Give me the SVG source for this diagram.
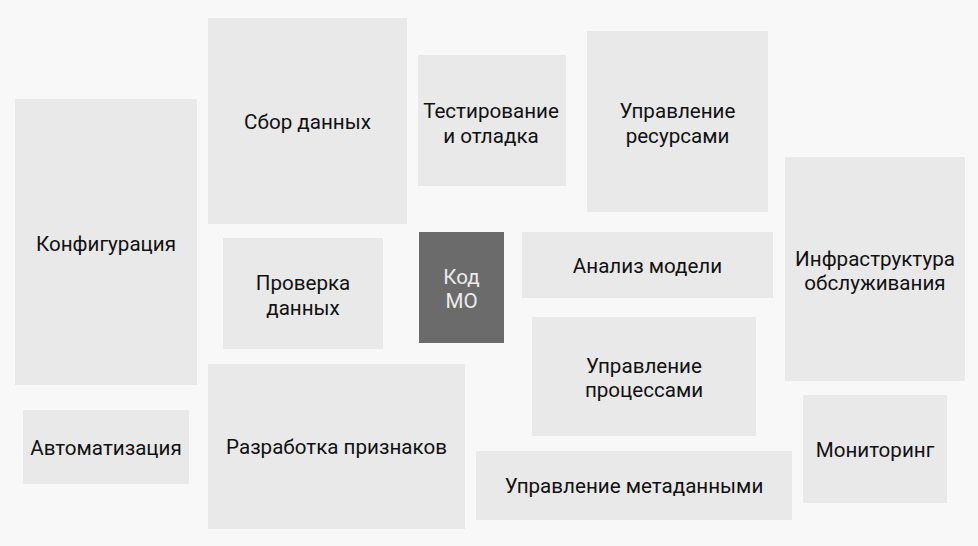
<svg xmlns="http://www.w3.org/2000/svg" width="978" height="546" viewBox="0 0 978 546">
<style>
.b{fill:#e9e9e9}
.d{fill:#6b6b6b}
text{font-family:Roboto,"Liberation Sans",sans-serif;font-size:20.6px;fill:#111111;text-anchor:middle}
.w{fill:#ececec}
</style>
<rect width="978" height="546" fill="#f7f8f7"/>
<g id="konfig"><rect class="b" x="15" y="99" width="182" height="286"/><text x="106" y="251">Конфигурация</text></g>
<g id="sbor"><rect class="b" x="208" y="18" width="199" height="206"/><text x="307.5" y="129">Сбор данных</text></g>
<g id="test"><rect class="b" x="418" y="55" width="148" height="131"/><text x="491" y="118">Тестирование</text><text x="491" y="143">и отладка</text></g>
<g id="resursy"><rect class="b" x="587" y="31" width="181" height="181"/><text x="677.5" y="118">Управление</text><text x="677.5" y="143">ресурсами</text></g>
<g id="infra"><rect class="b" x="785" y="157" width="180" height="224"/><text x="875" y="266">Инфраструктура</text><text x="875" y="290">обслуживания</text></g>
<g id="proverka"><rect class="b" x="223" y="238" width="160" height="111"/><text x="303" y="290">Проверка</text><text x="303" y="315">данных</text></g>
<g id="kod"><rect class="d" x="419" y="232" width="85" height="111"/><text class="w" x="461.5" y="284">Код</text><text class="w" x="461.5" y="308">МО</text></g>
<g id="analiz"><rect class="b" x="522" y="232" width="251" height="66"/><text x="647.5" y="273">Анализ модели</text></g>
<g id="processy"><rect class="b" x="532" y="317" width="224" height="119"/><text x="644" y="373">Управление</text><text x="644" y="397">процессами</text></g>
<g id="avto"><rect class="b" x="23" y="410" width="166" height="74"/><text x="106" y="455">Автоматизация</text></g>
<g id="razrab"><rect class="b" x="208" y="364" width="257" height="165"/><text x="336.5" y="454">Разработка признаков</text></g>
<g id="meta"><rect class="b" x="476" y="451" width="316" height="69"/><text x="634" y="493">Управление метаданными</text></g>
<g id="monitor"><rect class="b" x="803" y="395" width="144" height="108"/><text x="875" y="457">Мониторинг</text></g>
<g id="connectors"></g>
</svg>
